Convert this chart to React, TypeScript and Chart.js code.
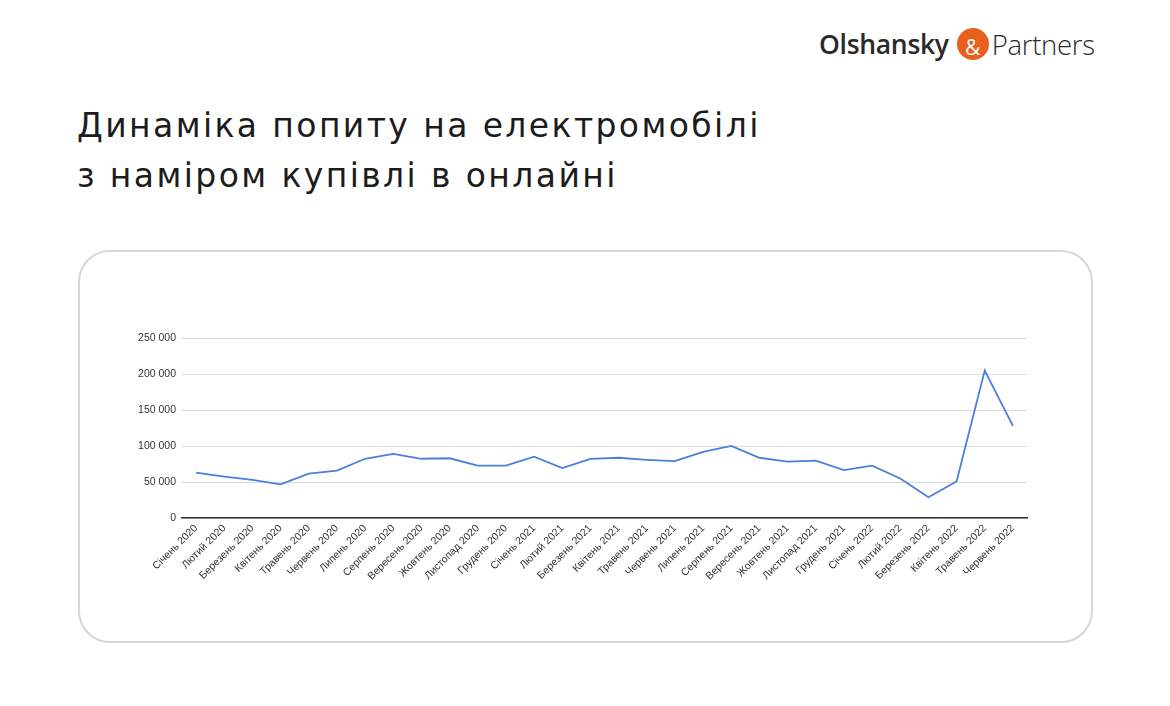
import React, { useEffect, useRef } from "react";
import { Chart, registerables } from "chart.js";

Chart.register(...registerables);

const months = [
  "Січень 2020", "Лютий 2020", "Березень 2020", "Квітень 2020", "Травень 2020", "Червень 2020",
  "Липень 2020", "Серпень 2020", "Вересень 2020", "Жовтень 2020", "Листопад 2020", "Грудень 2020",
  "Січень 2021", "Лютий 2021", "Березень 2021", "Квітень 2021", "Травень 2021", "Червень 2021",
  "Липень 2021", "Серпень 2021", "Вересень 2021", "Жовтень 2021", "Листопад 2021", "Грудень 2021",
  "Січень 2022", "Лютий 2022", "Березень 2022", "Квітень 2022", "Травень 2022", "Червень 2022",
];

const demand = [
  63000, 57700, 53000, 46700, 61800, 66000,
  82400, 89300, 82400, 83100, 72800, 72800,
  85200, 69400, 82400, 83800, 81000, 79000,
  92000, 100300, 83800, 78300, 79700, 66600,
  72800, 55000, 28800, 50800, 205000, 128200,
];

const yTicks = [0, 50000, 100000, 150000, 200000, 250000];

const fmt = (v: number) => {
  const s = String(Math.round(v));
  return s.replace(/\B(?=(\d{3})+(?!\d))/g, " ");
};

export default function App() {
  const ref = useRef<HTMLCanvasElement | null>(null);

  useEffect(() => {
    if (!ref.current) return;
    const chart = new Chart(ref.current, {
      type: "line",
      data: {
        labels: months,
        datasets: [
          {
            data: demand,
            borderColor: "#4a7fdc",
            borderWidth: 1.8,
            pointRadius: 0,
            tension: 0,
            fill: false,
          },
        ],
      },
      options: {
        animation: false,
        responsive: false,
        maintainAspectRatio: false,
        layout: { padding: { top: 10, right: 23, bottom: 0, left: 0 } },
        plugins: { legend: { display: false }, tooltip: { enabled: false } },
        scales: {
          x: {
            offset: true,
            grid: { display: false, drawTicks: false },
            border: { display: true, color: "#333333", width: 1.5 },
            ticks: {
              autoSkip: false,
              minRotation: 45,
              maxRotation: 45,
              padding: 4,
              color: "#333333",
              font: { family: "'Liberation Sans', Arial, sans-serif", size: 10.5 },
            },
            afterFit: (s: any) => {
              s.height = 80;
            },
          },
          y: {
            min: 0,
            max: 250000,
            afterBuildTicks: (s: any) => {
              s.ticks = yTicks.map((v) => ({ value: v }));
            },
            grid: { color: "#dcdcdc", lineWidth: 1, drawTicks: false },
            border: { display: false },
            ticks: {
              padding: 6,
              color: "#333333",
              font: { family: "'Liberation Sans', Arial, sans-serif", size: 10.5 },
              callback: (v: any) => fmt(Number(v)),
            },
            afterFit: (s: any) => {
              s.width = 82;
            },
          },
        },
      },
    });
    return () => chart.destroy();
  }, []);

  return (
    <div
      style={{
        position: "absolute",
        left: 0,
        top: 0,
        width: 1170,
        height: 706,
        background: "#ffffff",
        overflow: "hidden",
      }}
    >
      {/* Logo */}
      <div
        style={{
          position: "absolute",
          left: 819,
          top: 24,
          height: 40,
          display: "flex",
          alignItems: "center",
          fontFamily: "'Open Sans', 'Noto Sans', sans-serif",
          color: "#2a2a2a",
          whiteSpace: "nowrap",
        }}
      >
        <span style={{ fontSize: 26.5, fontWeight: 600, letterSpacing: -0.3 }}>Olshansky</span>
        <span
          style={{
            display: "inline-flex",
            alignItems: "center",
            justifyContent: "center",
            width: 32,
            height: 32,
            borderRadius: "50%",
            background: "#e8601c",
            color: "#ffffff",
            fontSize: 21,
            fontWeight: 400,
            marginLeft: 8,
            marginRight: 3,
            paddingTop: 6,
            boxSizing: "border-box",
          }}
        >
          &amp;
        </span>
        <span style={{ fontSize: 27.5, fontWeight: 300, letterSpacing: -0.3 }}>Partners</span>
      </div>

      {/* Title */}
      <div
        style={{
          position: "absolute",
          left: 77,
          top: 101,
          fontFamily: "'DejaVu Sans', sans-serif",
          fontSize: 33,
          fontWeight: 400,
          lineHeight: "50px",
          color: "#1c1c1c",
          letterSpacing: 2.4,
          whiteSpace: "nowrap",
        }}
      >
        <div>Динаміка попиту на електромобілі</div>
        <div>з наміром купівлі в онлайні</div>
      </div>

      {/* Card */}
      <div
        style={{
          position: "absolute",
          left: 78,
          top: 250,
          width: 1015,
          height: 393,
          boxSizing: "border-box",
          border: "2px solid #d6d6d6",
          borderRadius: 32,
        }}
      />

      <canvas
        ref={ref}
        width={950}
        height={272}
        style={{ position: "absolute", left: 100, top: 326, width: 950, height: 272 }}
      />
    </div>
  );
}
